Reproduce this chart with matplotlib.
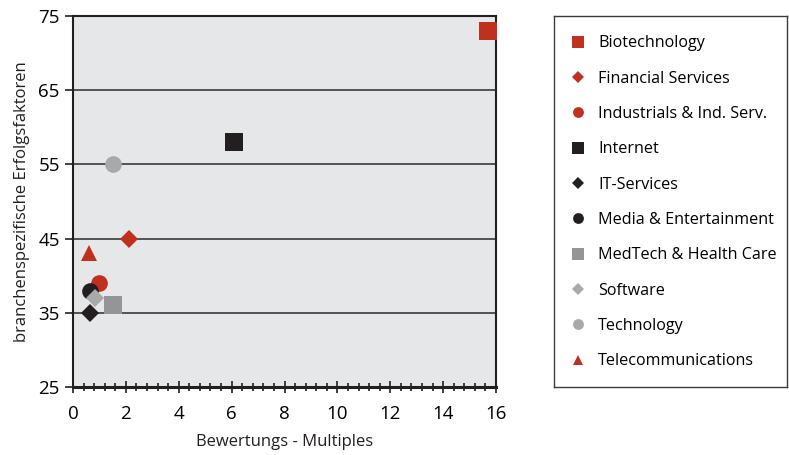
import numpy as np
import matplotlib.pyplot as plt
from matplotlib.ticker import MultipleLocator

plt.rcParams['font.family'] = ['Open Sans', 'DejaVu Sans']

# --- data ---
categories = ["Biotechnology", "Financial Services", "Industrials & Ind. Serv.",
              "Internet", "IT-Services", "Media & Entertainment",
              "MedTech & Health Care", "Software", "Technology",
              "Telecommunications"]
multiples = [15.7, 2.1, 1.0, 6.1, 0.65, 0.65, 1.5, 0.85, 1.5, 0.62]
factors = [73, 45, 39, 58, 35, 38, 36, 37, 55, 43]

RED = "#c0301e"
BLACK = "#231f20"
GRAY = "#939598"
LGRAY = "#a7a9ac"
colors = [RED, RED, RED, BLACK, BLACK, BLACK, GRAY, LGRAY, LGRAY, RED]
markers = ["s", "D", "o", "s", "D", "o", "s", "D", "o", "^"]
sizes = {"s": 13, "D": 9.5, "o": 12, "^": 12}

fig = plt.figure(figsize=(7.89, 4.55), dpi=100)
ax = fig.add_axes([73 / 789, 1 - 387 / 455, 423 / 789, 371 / 455])
ax.set_facecolor("#e6e7e8")

handles = []
for name, x, y, c, m in zip(categories, multiples, factors, colors, markers):
    h, = ax.plot(x, y, linestyle="none", marker=m, color=c, markersize=sizes[m],
                 markeredgewidth=0, label=name, zorder=3)
    handles.append(h)

ax.set_xlim(0, 16)
ax.set_ylim(25, 75)
ax.set_xticks(np.arange(0, 17, 2))
ax.set_yticks(np.arange(25, 76, 10))
ax.xaxis.set_minor_locator(MultipleLocator(0.4))
ax.tick_params(axis="x", which="major", direction="inout", length=8, width=1.2,
               labelsize=13.5, pad=9, color="#231f20")
ax.tick_params(axis="x", which="minor", direction="inout", length=6, width=1.2,
               color="#231f20")
ax.tick_params(axis="y", direction="out", length=6, width=1.2, labelsize=13.5,
               color="#231f20")
for s in ax.spines.values():
    s.set_linewidth(1.5)
    s.set_color("#231f20")
ax.spines["bottom"].set_linewidth(2.2)
for v in [35, 45, 55, 65]:
    ax.axhline(v, color="#3a3a3c", linewidth=1.2, zorder=1)

ax.set_xlabel("Bewertungs - Multiples", fontsize=12, color="#231f20", labelpad=8)
ax.set_ylabel("branchenspezifische Erfolgsfaktoren", fontsize=12, color="#231f20",
              labelpad=6)

# legend panel on the right
lax = fig.add_axes([554 / 789, 1 - 387 / 455, 233 / 789, 371 / 455])
lax.set_xticks([])
lax.set_yticks([])
for s in lax.spines.values():
    s.set_linewidth(1.0)
    s.set_color("#3a3a3c")
lax.legend(handles=handles, loc="upper left", frameon=False, fontsize=11.6,
           markerscale=0.65, labelspacing=1.2, handletextpad=0.65,
           borderaxespad=0.4, borderpad=0.8, handlelength=1.2,
           bbox_to_anchor=(-0.022, 1.0))

fig.savefig("out.png", dpi=100)
